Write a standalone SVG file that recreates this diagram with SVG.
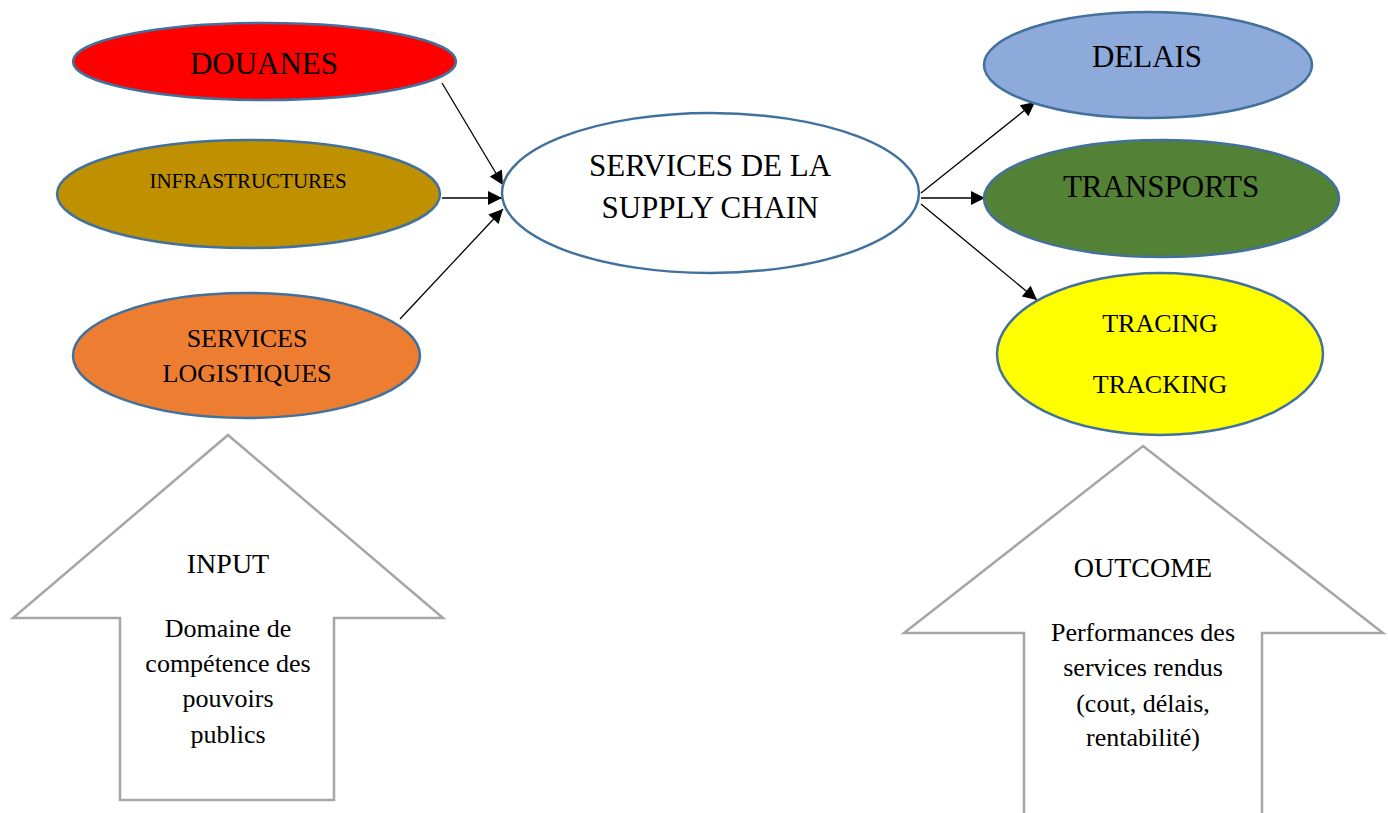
<svg xmlns="http://www.w3.org/2000/svg" width="1388" height="813" viewBox="0 0 1388 813">
<style>
text{font-family:"Liberation Serif","Times New Roman",serif;fill:#000;text-anchor:middle}
.node{stroke:#41719c;stroke-width:2.5}
.conn{stroke:#000;stroke-width:1.3;fill:none;marker-end:url(#ah)}
.big{fill:#fff;stroke:#a6a6a6;stroke-width:2.5}
</style>
<defs>
<marker id="ah" viewBox="0 0 10 10" refX="10" refY="5" markerWidth="15" markerHeight="14" markerUnits="userSpaceOnUse" orient="auto">
<path d="M0,0 L10,5 L0,10 z" fill="#000"/>
</marker>
</defs>
<rect width="1388" height="813" fill="#fff"/>
<g id="input-arrow">
<polygon class="big" points="228,435 443,618 334,618 334,800 120,800 120,618 13,618"/>
<text x="228" y="573" font-size="28">INPUT</text>
<text x="228" y="637" font-size="26">Domaine de</text>
<text x="228" y="672" font-size="26">compétence des</text>
<text x="228" y="707" font-size="26">pouvoirs</text>
<text x="228" y="743" font-size="26">publics</text>
</g>
<g id="outcome-arrow">
<polygon class="big" points="1143,446 1383,633 1262,633 1262,820 1024,820 1024,633 904,633"/>
<text x="1143" y="577" font-size="28">OUTCOME</text>
<text x="1143" y="641" font-size="26">Performances des</text>
<text x="1143" y="676" font-size="26">services rendus</text>
<text x="1143" y="712" font-size="26">(cout, délais,</text>
<text x="1143" y="746" font-size="26">rentabilité)</text>
</g>
<g id="connectors">
<line class="conn" x1="442" y1="83" x2="503" y2="185"/>
<line class="conn" x1="442" y1="198" x2="502" y2="198"/>
<line class="conn" x1="400" y1="319" x2="503" y2="209"/>
<line class="conn" x1="921" y1="193" x2="1035" y2="102"/>
<line class="conn" x1="921" y1="198" x2="985" y2="198"/>
<line class="conn" x1="921" y1="204" x2="1037" y2="300"/>
</g>
<g id="douanes">
<ellipse class="node" cx="264.5" cy="61.5" rx="191.5" ry="38.5" fill="#ff0000"/>
<text x="264" y="74" font-size="31">DOUANES</text>
</g>
<g id="infrastructures">
<ellipse class="node" cx="248.5" cy="194" rx="191.5" ry="54" fill="#bf9000"/>
<text x="248" y="188" font-size="21">INFRASTRUCTURES</text>
</g>
<g id="services-logistiques">
<ellipse class="node" cx="246.5" cy="355.5" rx="173.5" ry="62.5" fill="#ed7d31"/>
<text x="247" y="347" font-size="26">SERVICES</text>
<text x="247" y="382" font-size="26">LOGISTIQUES</text>
</g>
<g id="supply-chain">
<ellipse class="node" cx="710.5" cy="193" rx="208.5" ry="80" fill="#fff"/>
<text x="710" y="176" font-size="31">SERVICES DE LA</text>
<text x="710" y="218" font-size="31">SUPPLY CHAIN</text>
</g>
<g id="delais">
<ellipse class="node" cx="1148" cy="65" rx="164" ry="53" fill="#8eaadb"/>
<text x="1147" y="67" font-size="31">DELAIS</text>
</g>
<g id="transports">
<ellipse class="node" cx="1161.5" cy="198.5" rx="177.5" ry="58.5" fill="#538135"/>
<text x="1161" y="197" font-size="31">TRANSPORTS</text>
</g>
<g id="tracing-tracking">
<ellipse class="node" cx="1160" cy="354" rx="163" ry="81" fill="#ffff00"/>
<text x="1160" y="332" font-size="26">TRACING</text>
<text x="1160" y="393" font-size="26">TRACKING</text>
</g>
</svg>
